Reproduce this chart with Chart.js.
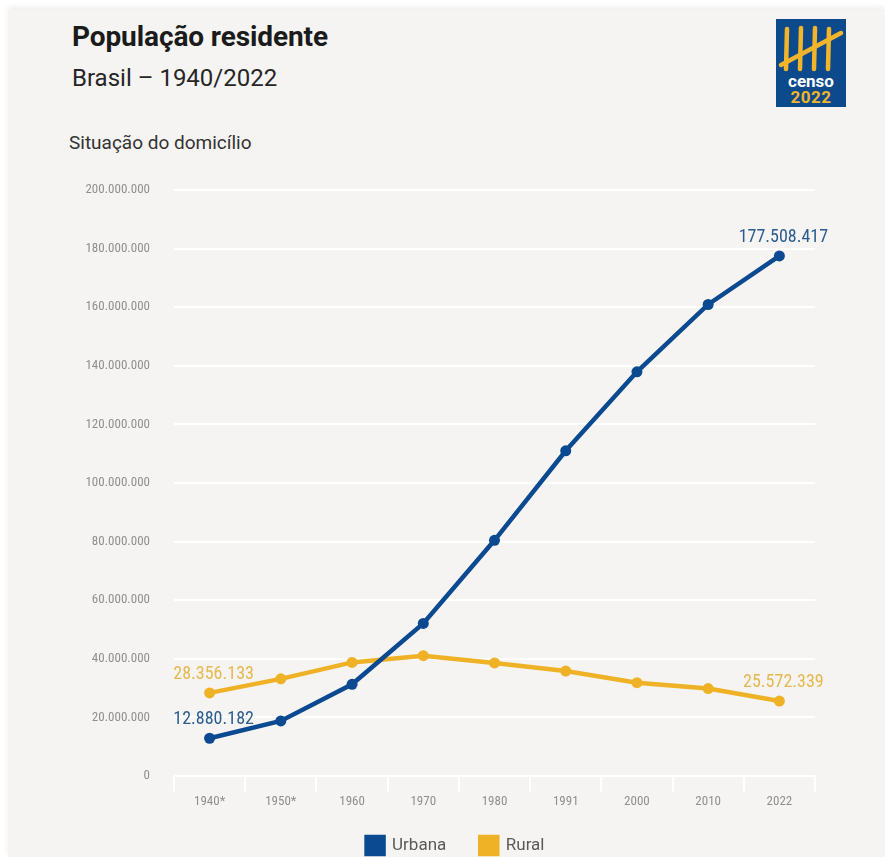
<!DOCTYPE html>
<html lang="pt-BR">
<head>
<meta charset="utf-8">
<title>População residente</title>
<script src="https://cdn.jsdelivr.net/npm/chart.js@4.4.1/dist/chart.umd.min.js"></script>
<style>
  html, body { margin: 0; padding: 0; background: #fff; width: 885px; height: 857px; overflow: hidden; }
  #quadro { position: absolute; left: 8px; top: 10px; width: 877px; height: 847px; background: #f5f4f2;
            box-shadow: 0 -3px 6px rgba(0,0,0,0.07); }
  #grafico { position: absolute; left: 0; top: 0; }
  .texto { position: absolute; margin: 0; white-space: nowrap; line-height: 1; }
  #titulo { left: 72px; top: 20px; font: bold 28px Roboto, sans-serif; color: #1b1b1b; letter-spacing: -0.1px; }
  #subtitulo { left: 72px; top: 64px; font: 24px Roboto, sans-serif; color: #262626; }
  #situacao { left: 69px; top: 131px; font: 19px Roboto, sans-serif; color: #333; }
  #logo { position: absolute; left: 776px; top: 19px; }
</style>
</head>
<body>
<div id="quadro"></div>
<div class="texto" id="titulo">População residente</div>
<div class="texto" id="subtitulo">Brasil – 1940/2022</div>
<div class="texto" id="situacao">Situação do domicílio</div>

<svg id="logo" width="70" height="88" viewBox="0 0 70 88">
  <rect x="0" y="0" width="70" height="88" fill="#0c4a8c"/>
  <g stroke="#f2b42a" stroke-width="4.5" stroke-linecap="round" fill="none">
    <path d="M11 10 L10 50"/>
    <path d="M25 9 L24 50"/>
    <path d="M39 9 L38 50"/>
    <path d="M53 10 L52 50"/>
    <path d="M5 46 L65 14"/>
  </g>
  <text x="35" y="68" text-anchor="middle" font-family="Roboto, sans-serif" font-weight="bold" font-size="17" fill="#fff">censo</text>
  <text x="35" y="84" text-anchor="middle" font-family="Roboto, sans-serif" font-weight="bold" font-size="17" fill="#f2b42a" letter-spacing="0.5">2022</text>
</svg>

<canvas id="grafico" width="885" height="857"></canvas>

<script>
// Anos dos censos
const anos = ['1940*', '1950*', '1960', '1970', '1980', '1991', '2000', '2010', '2022'];

// População residente por situação do domicílio
const urbana = [12880182, 18782891, 31303034, 52084984, 80436409, 110990990, 137953959, 160925792, 177508417];
const rural = [28356133, 33161506, 38767423, 41054053, 38573725, 35834485, 31845211, 29830007, 25572339];

const FONTE_ESTREITA = '"Liberation Sans Narrow", "Roboto Condensed", "DejaVu Sans Condensed", Roboto, sans-serif';

const AZUL = '#0b4a90';
const AMARELO = '#efb226';

// 12880182 -> 12.880.182
function formatar(valor) {
    return String(valor).replace(/\B(?=(\d{3})+(?!\d))/g, '.');
}

// Rótulos só no primeiro e no último ponto de cada série
const rotulosExtremos = {
    id: 'rotulosExtremos',
    afterDatasetsDraw(chart) {
        const ctx = chart.ctx;
        chart.data.datasets.forEach((ds, i) => {
            const meta = chart.getDatasetMeta(i);
            [0, ds.data.length - 1].forEach(j => {
                const p = meta.data[j];
                ctx.save();
                ctx.font = '18px ' + FONTE_ESTREITA;
                ctx.fillStyle = ds.corRotulo;
                ctx.textAlign = 'center';
                ctx.textBaseline = 'alphabetic';
                ctx.fillText(formatar(ds.data[j]), p.x + 4, p.y - 14);
                ctx.restore();
            });
        });
    }
};

// Legenda um pouco mais para a direita e mais perto do eixo
const ajusteLegenda = {
    id: 'ajusteLegenda',
    afterLayout(chart) {
        const leg = chart.legend;
        leg.left += 8; leg.right += 8;
        leg.top -= 7; leg.bottom -= 7;
    }
};

const ctx = document.getElementById('grafico').getContext('2d');
new Chart(ctx, {
    type: 'line',
    data: {
        labels: anos,
        datasets: [
            {
                label: 'Urbana',
                data: urbana,
                borderColor: AZUL,
                backgroundColor: AZUL,
                borderWidth: 4.5,
                pointRadius: 5.5,
                pointBackgroundColor: AZUL,
                pointBorderWidth: 0,
                corRotulo: '#2b5c8f'
            },
            {
                label: 'Rural',
                data: rural,
                borderColor: AMARELO,
                backgroundColor: AMARELO,
                borderWidth: 4.5,
                pointRadius: 5.5,
                pointBackgroundColor: AMARELO,
                pointBorderWidth: 0,
                corRotulo: '#e6b84f'
            }
        ]
    },
    options: {
        responsive: false,
        animation: false,
        layout: {
            padding: { top: 190, right: 70, left: 80, bottom: -14 }
        },
        plugins: {
            legend: {
                position: 'bottom',
                labels: {
                    boxWidth: 17,
                    boxHeight: 17,
                    padding: 34,
                    color: '#5a5a5a',
                    font: { family: 'Roboto, sans-serif', size: 17 }
                }
            },
            tooltip: { enabled: false }
        },
        scales: {
            x: {
                offset: true,
                afterFit(scale) { scale.height = 34; },
                grid: {
                    offset: true,
                    drawOnChartArea: false,
                    drawTicks: true,
                    tickLength: 16,
                    color: '#ffffff',
                    lineWidth: 2
                },
                border: { display: false },
                ticks: {
                    color: '#8f8f8f',
                    padding: 2,
                    font: { family: FONTE_ESTREITA, size: 13 }
                }
            },
            y: {
                min: 0,
                max: 200000000,
                afterFit(scale) { scale.width = 94; },
                grid: {
                    drawTicks: false,
                    color: '#ffffff',
                    lineWidth: 2
                },
                border: { display: false },
                ticks: {
                    stepSize: 20000000,
                    padding: 24,
                    color: '#8f8f8f',
                    font: { family: FONTE_ESTREITA, size: 13 },
                    callback: v => formatar(v)
                }
            }
        }
    },
    plugins: [rotulosExtremos, ajusteLegenda]
});
</script>
</body>
</html>
